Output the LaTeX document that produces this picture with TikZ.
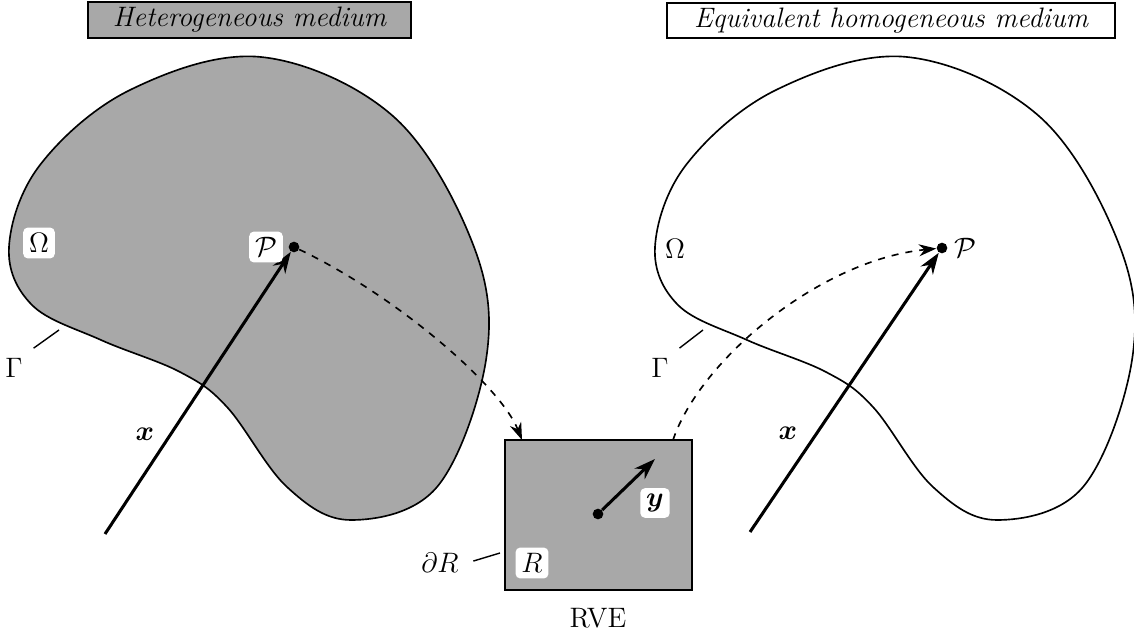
\documentclass[tikz,border=0pt]{standalone}
\usepackage{amsmath,amssymb}
\usepackage{tikz}
\usetikzlibrary{positioning,calc}
\usetikzlibrary{arrows.meta}
\definecolor{MediumGray}{RGB}{168,168,168}
\tikzset{dot/.style={circle,fill=black,inner sep=0pt,minimum size=1.6mm}, lab/.style={fill=white,rounded corners=2pt,inner sep=2.5pt,font=\large}, mlab/.style={font=\large}, titlebox/.style={draw=black,line width=0.8pt,inner sep=0pt,font=\large\itshape}, boundary/.style={draw=black,line width=0.7pt}, vec/.style={line width=1.3pt,-{Stealth[length=3.2mm,width=2.2mm]}}, link/.style={dashed,line width=0.7pt,-{Stealth[length=2.6mm,width=1.8mm]}}, tick/.style={line width=0.6pt}}
\newcommand{\mediumpath}{plot[smooth cycle,tension=0.6] coordinates {(261,57) (394,117) (474,247) (486,360) (437,487) (351,520) (287,487) (227,407) (180,372) (101,340) (32,305) (9,247) (40,165) (130,90)}}

\begin{document}
\begin{tikzpicture}[x=0.15mm,y=-0.15mm]
\useasboundingbox (0,0) rectangle (1134,636);
% heterogeneous medium
\fill[MediumGray] \mediumpath;
\draw[boundary] \mediumpath;
% homogeneous medium
\begin{scope}[shift={(646,0)}]
\draw[boundary] \mediumpath;
\end{scope}
\node[titlebox,fill=MediumGray,minimum width=48.4mm,minimum height=5.4mm] (het) at (249.5,20) {Heterogeneous medium};
\node[titlebox,fill=white,minimum width=67.2mm,minimum height=5.3mm] (hom) at (891,20.5) {Equivalent homogeneous medium};
% RVE
\node[draw=black,line width=0.8pt,fill=MediumGray,minimum width=28mm,minimum height=22.5mm,inner sep=0pt] (rve) at (598.5,515) {};
\node[mlab] (rvetext) at (598,618) {RVE};
\coordinate (rveIn) at (522,440);
\coordinate (rveOut) at (673,440);
\node[dot] (pL) at (294,247) {};
\node[dot] (pR) at (942,248) {};
\node[dot] (yc) at (598,514) {};
\coordinate (xL) at (105,534);
\coordinate (xR) at (750,532);
\coordinate (ytip) at (655,459);
\draw[vec] (xL) -- (pL);
\draw[vec] (xR) -- (pR);
\draw[vec] (yc) -- (ytip);
\draw[link] (pL) .. controls (395,295) and (500,385) .. (rveIn);
\draw[link] (rveOut) .. controls (700,360) and (820,260) .. (pR);
% labels
\node[lab] (omL) at (39,243) {$\Omega$};
\node[lab] (pLtext) at (266,247) {$\mathcal{P}$};
\node[mlab] (omR) at (675,249) {$\Omega$};
\node[mlab] (pRtext) at (965,248) {$\mathcal{P}$};
\node[mlab] (xLtext) at (145,434) {$\boldsymbol{x}$};
\node[mlab] (xRtext) at (788,433) {$\boldsymbol{x}$};
\node[lab] (ytext) at (655,503) {$\boldsymbol{y}$};
\node[lab] (rtext) at (532,563) {$R$};
\node[mlab] (gamL) at (14,368) {$\Gamma$};
\node[mlab] (gamR) at (660,368) {$\Gamma$};
\node[mlab] (dR) at (440,563) {$\partial R$};
\coordinate (gLa) at (59,330);
\coordinate (gRa) at (703,330);
\coordinate (dRa) at (500,553);
\draw[tick,shorten <=0.5mm] (gamL.north east) -- (gLa);
\draw[tick,shorten <=0.5mm] (gamR.north east) -- (gRa);
\draw[tick,shorten <=1mm] (dR.east) -- (dRa);
\end{tikzpicture}
\end{document}
